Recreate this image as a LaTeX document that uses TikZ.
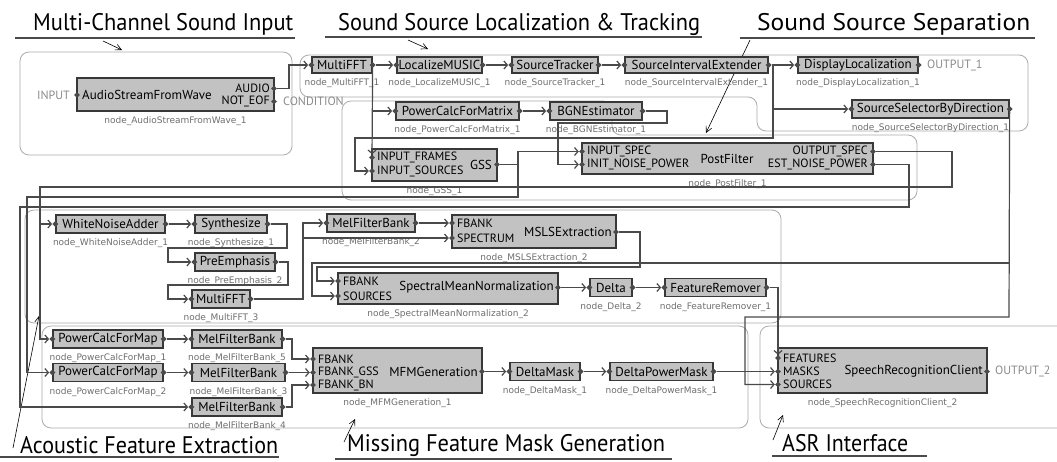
\documentclass[tikz,border=0pt]{standalone}
\usepackage{fontspec}
\usepackage{graphicx}
\usetikzlibrary{arrows.meta,shapes.geometric}
\newfontfamily\uifont{PT Sans}
\newfontfamily\lblfont{DejaVu Sans}
\newfontfamily\ttlfont{PT Sans}
\definecolor{boxbg}{HTML}{C2C2C2}
\definecolor{boxln}{HTML}{383838}
\definecolor{wirec}{HTML}{4A4A4A}
\definecolor{grpc}{HTML}{ABABAB}
\definecolor{lblc}{HTML}{6E6E6E}
\definecolor{extc}{HTML}{8A8A8A}

% block: name, x1, y1, x2, y2, text, instance label
\newcommand\blkbox[7]{%
  \pgfmathsetmacro\bxw{#4-#2}%
  \pgfmathsetmacro\bxh{#5-#3}%
  \node[blk, minimum width=\bxw pt, minimum height=\bxh pt] (#1) at ({(#2+#4)/2},{(#3+#5)/2}) {#6};%
  \node[nlab] (#1-l) at ({(#2+#4)/2},{#5+10.5}) {#7};}
% block with one input and one output terminal
\newcommand\plainblk[7]{%
  \blkbox{#1}{#2}{#3}{#4}{#5}{#6}{#7}%
  \node[pdot] (#1-i) at (#1.west) {};%
  \node[pdot] (#1-o) at (#1.east) {};}
% section heading squeezed to a given width
\newcommand\heading[2]{\resizebox{#1pt}{\height}{#2}}

\begin{document}
\begin{tikzpicture}[x=1pt,y=-1pt,
  blk/.style={draw=boxln, fill=boxbg, line width=1.3pt, rectangle, inner sep=0pt,
    font=\uifont\fontsize{13}{15}\selectfont},
  pdot/.style={diamond, fill=wirec, draw=none, inner sep=0pt, minimum width=6pt, minimum height=6pt},
  wire/.style={draw=wirec, line width=1.2pt, -{Straight Barb[length=3.5pt,width=8pt]}},
  ptxt/.style={font=\uifont\fontsize{12}{13}\selectfont, inner sep=0pt},
  mtxt/.style={font=\uifont\fontsize{13}{15}\selectfont, inner sep=0pt},
  nlab/.style={font=\lblfont\fontsize{9}{10}\selectfont, text=lblc, inner sep=0pt},
  xtxt/.style={font=\uifont\fontsize{12}{13}\selectfont, text=extc, inner sep=0pt},
  ttl/.style={font=\ttlfont\fontsize{24}{28}\selectfont, inner sep=0pt, anchor=base west},
  uline/.style={draw=wirec, line width=1.4pt},
  grp/.style={draw=grpc, line width=0.8pt, rounded corners=9pt},
  cline/.style={draw=black, line width=0.6pt, -{Straight Barb[length=6pt,width=6pt]}}]
\useasboundingbox (0,0) rectangle (1057,461);

% ---------- group outlines ----------
\draw[grp] (20,52) rectangle (292,155);
\draw[grp] (300,55) -- (1028,55) -- (1028,131) -- (757,131) -- (757,97) -- (300,97) -- cycle;
\draw[grp] (342,101) -- (612,101) -- (612,135) -- (917,135) -- (917,200) -- (342,200) -- cycle;
\draw[grp] (25,210) rectangle (781,323);
\draw[grp] (42,326) rectangle (748,428);
\draw[grp] (760,326) rectangle (1075,428);

% ---------- section headings ----------
\node[ttl] (t1) at (33,30) {\heading{260}{Multi-Channel Sound Input}};
\node[ttl] (t2) at (338,30) {\heading{362}{Sound Source Localization \& Tracking}};
\node[ttl] (t3) at (757,30) {\heading{273}{Sound Source Separation}};
\node[ttl] (t4) at (20,453) {\heading{258}{Acoustic Feature Extraction}};
\node[ttl] (t5) at (347,451) {\heading{318}{Missing Feature Mask Generation}};
\node[ttl] (t6) at (782,451) {\heading{126}{ASR Interface}};
\draw[uline] (15,38) -- (295,38);
\draw[uline] (325,37) -- (702,37);
\draw[uline] (740,38) -- (1035,38);
\draw[uline] (0,457) -- (279,457);
\draw[uline] (335,459) -- (672,459);
\draw[uline] (772,456) -- (927,456);
\coordinate (c1a) at (103,41);  \coordinate (c1b) at (122,50);
\coordinate (c2a) at (408,40);  \coordinate (c2b) at (428,49);
\coordinate (c3a) at (750,40);  \coordinate (c3b) at (706,133);
\coordinate (c4a) at (13,448);  \coordinate (c4b) at (39,316);
\coordinate (c5a) at (344,442); \coordinate (c5b) at (355,419);
\coordinate (c6a) at (773,440); \coordinate (c6b) at (783,415);
\draw[cline] (c1a) -- (c1b);
\draw[cline] (c2a) -- (c2b);
\draw[cline] (c3a) -- (c3b);
\draw[cline] (c4a) -- (c4b);
\draw[cline] (c5a) -- (c5b);
\draw[cline] (c6a) -- (c6b);

% ---------- sound input ----------
\blkbox{asw}{77}{78}{274}{111}{}{node\_AudioStreamFromWave\_1}
\node[mtxt, anchor=west] (asw-t) at (82,95) {AudioStreamFromWave};
\node[ptxt, anchor=east] (asw-ta) at (270,88.5) {AUDIO};
\node[ptxt, anchor=east] (asw-tn) at (270,101.5) {NOT\_EOF};
\node[pdot] (asw-in) at (77,95) {};
\node[pdot] (asw-a) at (274,88.5) {};
\node[pdot] (asw-n) at (274,101.5) {};
\node[xtxt, anchor=east] (x-in) at (70,95) {INPUT};
\node[xtxt, anchor=west] (x-cond) at (283,101.5) {CONDITION};

% ---------- localization ----------
\plainblk{mfft1}{312}{57}{372}{73}{MultiFFT}{node\_MultiFFT\_1}
\plainblk{music}{397}{57}{482}{73}{LocalizeMUSIC}{node\_LocalizeMUSIC\_1}
\plainblk{trk}{512}{57}{598}{73}{SourceTracker}{node\_SourceTracker\_1}
\plainblk{sie}{625}{57}{768}{73}{SourceIntervalExtender}{node\_SourceIntervalExtender\_1}
\plainblk{disp}{798}{57}{918}{73}{DisplayLocalization}{node\_DisplayLocalization\_1}
\plainblk{ssbd}{852}{100}{1009}{118}{SourceSelectorByDirection}{node\_SourceSelectorByDirection\_1}
\node[xtxt, anchor=west] (x-out1) at (927,65) {OUTPUT\_1};

% ---------- separation ----------
\plainblk{pcm}{396}{102}{519}{120}{PowerCalcForMatrix}{node\_PowerCalcForMatrix\_1}
\plainblk{bgn}{550}{102}{642}{120}{BGNEstimator}{node\_BGNEstimator\_1}
\blkbox{gss}{372}{149}{497}{181}{}{node\_GSS\_1}
\node[ptxt, anchor=west] (gss-t1) at (377,157.5) {INPUT\_FRAMES};
\node[ptxt, anchor=west] (gss-t2) at (377,171) {INPUT\_SOURCES};
\node[mtxt, anchor=east] (gss-t) at (492,164.5) {GSS};
\node[pdot] (gss-if) at (372,157.5) {};
\node[pdot] (gss-is) at (372,171) {};
\node[pdot] (gss-o) at (497,164.5) {};
\blkbox{pf}{582}{143}{873}{174}{}{node\_PostFilter\_1}
\node[ptxt, anchor=west] (pf-t1) at (587,151.5) {INPUT\_SPEC};
\node[ptxt, anchor=west] (pf-t2) at (587,164.5) {INIT\_NOISE\_POWER};
\node[mtxt] (pf-t) at (727,159) {PostFilter};
\node[ptxt, anchor=east] (pf-t3) at (868,151.5) {OUTPUT\_SPEC};
\node[ptxt, anchor=east] (pf-t4) at (868,164.5) {EST\_NOISE\_POWER};
\node[pdot] (pf-is) at (582,151.5) {};
\node[pdot] (pf-in) at (582,164.5) {};
\node[pdot] (pf-os) at (873,151.5) {};
\node[pdot] (pf-en) at (873,164.5) {};

% ---------- acoustic features ----------
\plainblk{wna}{56}{215}{165}{233}{WhiteNoiseAdder}{node\_WhiteNoiseAdder\_1}
\plainblk{syn}{195}{215}{267}{233}{Synthesize}{node\_Synthesize\_1}
\plainblk{pre}{195}{253}{275}{271}{PreEmphasis}{node\_PreEmphasis\_2}
\plainblk{mfft3}{192}{290}{250}{308}{MultiFFT}{node\_MultiFFT\_3}
\plainblk{mfb2}{327}{214}{415}{232}{MelFilterBank}{node\_MelFilterBank\_2}
\blkbox{msls}{452}{215}{616}{248}{}{node\_MSLSExtraction\_2}
\node[ptxt, anchor=west] (msls-t1) at (457,223) {FBANK};
\node[ptxt, anchor=west] (msls-t2) at (457,238) {SPECTRUM};
\node[mtxt, anchor=east] (msls-t) at (612,232) {MSLSExtraction};
\node[pdot] (msls-fb) at (452,223) {};
\node[pdot] (msls-sp) at (452,238) {};
\node[pdot] (msls-o) at (616,232) {};
\blkbox{smn}{338}{273}{558}{304}{}{node\_SpectralMeanNormalization\_2}
\node[ptxt, anchor=west] (smn-t1) at (343,281) {FBANK};
\node[ptxt, anchor=west] (smn-t2) at (343,296) {SOURCES};
\node[mtxt, anchor=east] (smn-t) at (554,287.5) {SpectralMeanNormalization};
\node[pdot] (smn-fb) at (338,281) {};
\node[pdot] (smn-so) at (338,296) {};
\node[pdot] (smn-o) at (558,287.5) {};
\plainblk{dlt}{590}{278.5}{632}{296.5}{Delta}{node\_Delta\_2}
\plainblk{frm}{665}{278.5}{766}{296.5}{FeatureRemover}{node\_FeatureRemover\_1}

% ---------- missing feature masks ----------
\plainblk{pcp1}{53}{330}{163}{348}{PowerCalcForMap}{node\_PowerCalcForMap\_1}
\plainblk{pcp2}{53}{363.5}{163}{381.5}{PowerCalcForMap}{node\_PowerCalcForMap\_2}
\plainblk{mfb5}{192}{330}{282}{348}{MelFilterBank}{node\_MelFilterBank\_5}
\plainblk{mfb3}{192}{363.5}{285}{381.5}{MelFilterBank}{node\_MelFilterBank\_3}
\plainblk{mfb4}{192}{398}{282}{416}{MelFilterBank}{node\_MelFilterBank\_4}
\blkbox{mfm}{313}{348}{482}{393}{}{node\_MFMGeneration\_1}
\node[ptxt, anchor=west] (mfm-t1) at (318,359) {FBANK};
\node[ptxt, anchor=west] (mfm-t2) at (318,372.5) {FBANK\_GSS};
\node[ptxt, anchor=west] (mfm-t3) at (318,385) {FBANK\_BN};
\node[mtxt, anchor=east] (mfm-t) at (478,372) {MFMGeneration};
\node[pdot] (mfm-fb) at (313,359) {};
\node[pdot] (mfm-fg) at (313,372.5) {};
\node[pdot] (mfm-bn) at (313,385) {};
\node[pdot] (mfm-o) at (482,371.5) {};
\plainblk{dm}{510}{362.5}{580}{380.5}{DeltaMask}{node\_DeltaMask\_1}
\plainblk{dpm}{610}{362.5}{713}{380.5}{DeltaPowerMask}{node\_DeltaPowerMask\_1}

% ---------- ASR interface ----------
\blkbox{src}{778}{348}{987}{393}{}{node\_SpeechRecognitionClient\_2}
\node[ptxt, anchor=west] (src-t1) at (783,358) {FEATURES};
\node[ptxt, anchor=west] (src-t2) at (783,371.5) {MASKS};
\node[ptxt, anchor=west] (src-t3) at (783,384.5) {SOURCES};
\node[mtxt, anchor=east] (src-t) at (983,371.5) {SpeechRecognitionClient};
\node[pdot] (src-fe) at (778,358) {};
\node[pdot] (src-ma) at (778,371.5) {};
\node[pdot] (src-so) at (778,384.5) {};
\node[pdot] (src-o) at (987,371.5) {};
\node[xtxt, anchor=west] (x-out2) at (995,371.5) {OUTPUT\_2};

% ---------- connections ----------
\draw[wire] (asw-a) -- (289,88.5) |- (mfft1-i);
\draw[wire] (mfft1-o) -- (music-i);
\draw[wire] (mfft1-o) -- (gss-if);
\coordinate (jA) at (372,111);
\draw[wire] (jA) -- (pcm-i);
\draw[wire] (music-o) -- (trk-i);
\draw[wire] (trk-o) -- (sie-i);
\draw[wire] (sie-o) -- (disp-i);
\draw[wire] (sie-o) -| (773,138) -- (355,138) |- (gss-is);
\coordinate (jB) at (773,109);
\draw[wire] (jB) -- (ssbd-i);
\draw[wire] (pcm-o) -- (bgn-i);
\draw[wire] (bgn-o) -- (667,111) -- (667,123) -- (558,123) |- (pf-in);
\draw[wire] (gss-o) -- (518,164.5) |- (pf-is);
\coordinate (jC) at (518,164.5);
\draw[wire] (jC) -- (518,197) -- (27,197) |- (pcp2-i);
\draw[wire] (pf-os) -- (952,151.5) -- (952,187) -- (40,187) |- (pcp1-i);
\coordinate (jD) at (40,224);
\draw[wire] (jD) -- (wna-i);
\draw[wire] (pf-en) -- (909,164.5) -- (909,207) -- (20,207) |- (mfb4-i);

\draw[wire] (wna-o) -- (syn-i);
\draw[wire] (syn-o) -- (287,224) -- (287,248) -- (168,248) |- (pre-i);
\draw[wire] (pre-o) -- (288,262) -- (288,285) -- (168,285) |- (mfft3-i);
\draw[wire] (mfft3-o) -- (303,299) |- (mfb2-i);
\coordinate (jE) at (303,238);
\draw[wire] (jE) -- (msls-sp);
\draw[wire] (mfb2-o) -- (msls-fb);
\draw[wire] (msls-o) -- (640,232) -- (640,267) -- (317,267) |- (smn-fb);
\draw[wire] (ssbd-o) -- (1009,317) -- (745,317) |- (src-so);
\coordinate (jF) at (1009,263);
\draw[wire] (jF) -- (312,263) |- (smn-so);
\draw[wire] (smn-o) -- (dlt-i);
\draw[wire] (dlt-o) -- (frm-i);
\draw[wire] (frm-o) -| (src-fe);

\draw[wire] (pcp1-o) -- (mfb5-i);
\draw[wire] (pcp2-o) -- (mfb3-i);
\draw[wire] (mfb5-o) -- (292,339) |- (mfm-fb);
\draw[wire] (mfb3-o) -- (mfm-fg);
\draw[wire] (mfb4-o) -- (292,407) |- (mfm-bn);
\draw[wire] (mfm-o) -- (dm-i);
\draw[wire] (dm-o) -- (dpm-i);
\draw[wire] (dpm-o) -- (src-ma);
\end{tikzpicture}
\end{document}
